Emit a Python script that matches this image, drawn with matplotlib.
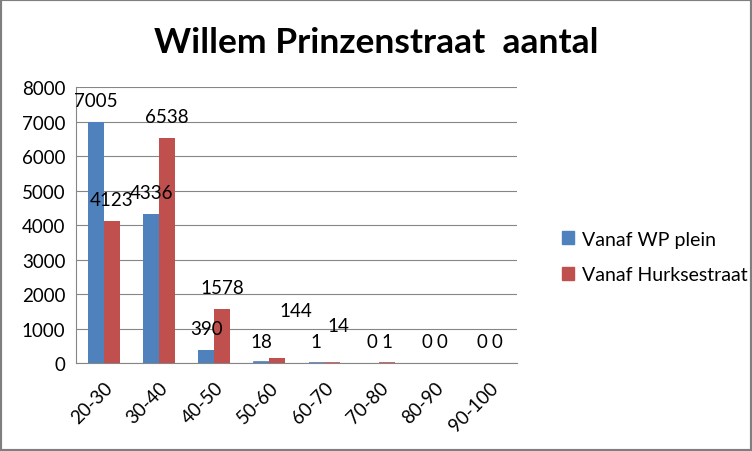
import matplotlib.pyplot as plt
import numpy as np
from matplotlib.patches import Patch, Rectangle

# leeftijdsklassen en aantallen
klassen = ['20-30', '30-40', '40-50', '50-60', '60-70', '70-80', '80-90', '90-100']
wp_plein = [7005, 4336, 390, 18, 1, 0, 0, 0]
hurksestraat = [4123, 6538, 1578, 144, 14, 1, 0, 0]

titel = 'Willem Prinzenstraat  aantal'
series_namen = ['Vanaf WP plein', 'Vanaf Hurksestraat']

blauw = '#4F81BD'
rood = '#C0504D'
grijs = '#868686'

plt.rcParams['font.family'] = ['Lato', 'DejaVu Sans']
fs = 13.5

fig = plt.figure(figsize=(7.52, 4.52), dpi=100)
ax = fig.add_axes([0.1017, 0.1947, 0.5858, 0.6099])

x = np.arange(len(klassen))
w = 0.285
# heel kleine (maar niet nul) staven toch zichtbaar maken, zoals excel
lw_wp = [1.2 if 0 < v < 100 else 0 for v in wp_plein]
lw_hu = [1.2 if 0 < v < 100 else 0 for v in hurksestraat]
b1 = ax.bar(x - w / 2, wp_plein, w, color=blauw, edgecolor=blauw, linewidth=lw_wp, zorder=3)
b2 = ax.bar(x + w / 2, hurksestraat, w, color=rood, edgecolor=rood, linewidth=lw_hu, zorder=3)

# data labels (een paar zijn in het origineel verschoven)
def labels(bars, waarden, extra):
    for j, (r, v) in enumerate(zip(bars, waarden)):
        dx, dy = extra.get(j, (0, 21))
        ax.annotate(str(v), (r.get_x() + r.get_width() / 2, v),
                    xytext=(dx, dy), textcoords='offset pixels',
                    ha='center', va='center', fontsize=fs, color='black', zorder=4)

labels(b1, wp_plein, {})
labels(b2, hurksestraat, {3: (19, 48), 4: (6, 37.5)})

ax.set_xlim(-0.5, len(klassen) - 0.5)
ax.set_ylim(0, 8000)
ax.set_yticks(np.arange(0, 8001, 1000))
ax.set_xticks(x)
ax.set_xticklabels(klassen, rotation=45, ha='right', rotation_mode='anchor')
ax.tick_params(axis='both', length=0, labelsize=fs)
ax.tick_params(axis='y', pad=8)
ax.tick_params(axis='x', pad=11)

ax.grid(axis='y', color=grijs, linewidth=0.8, zorder=0)
ax.set_axisbelow(True)
for s in ['top', 'right']:
    ax.spines[s].set_visible(False)
for s in ['left', 'bottom']:
    ax.spines[s].set_color(grijs)
    ax.spines[s].set_linewidth(0.8)

fig.text(0.5, 1 - 43 / 452, titel, ha='center', va='center',
         fontsize=25.5, fontweight='bold')

handles = [Patch(color=blauw), Patch(color=rood)]
fig.legend(handles, series_namen, loc='center left',
           bbox_to_anchor=(544 / 752, 1 - 258 / 452), frameon=False,
           fontsize=14, handlelength=0.65, handleheight=0.65,
           handletextpad=0.4, labelspacing=0.95)

fig.patches.append(Rectangle((0, 0), 1, 1, transform=fig.transFigure,
                             fill=False, edgecolor='#7F7F7F', linewidth=3))

fig.savefig('out.png', dpi=100)
